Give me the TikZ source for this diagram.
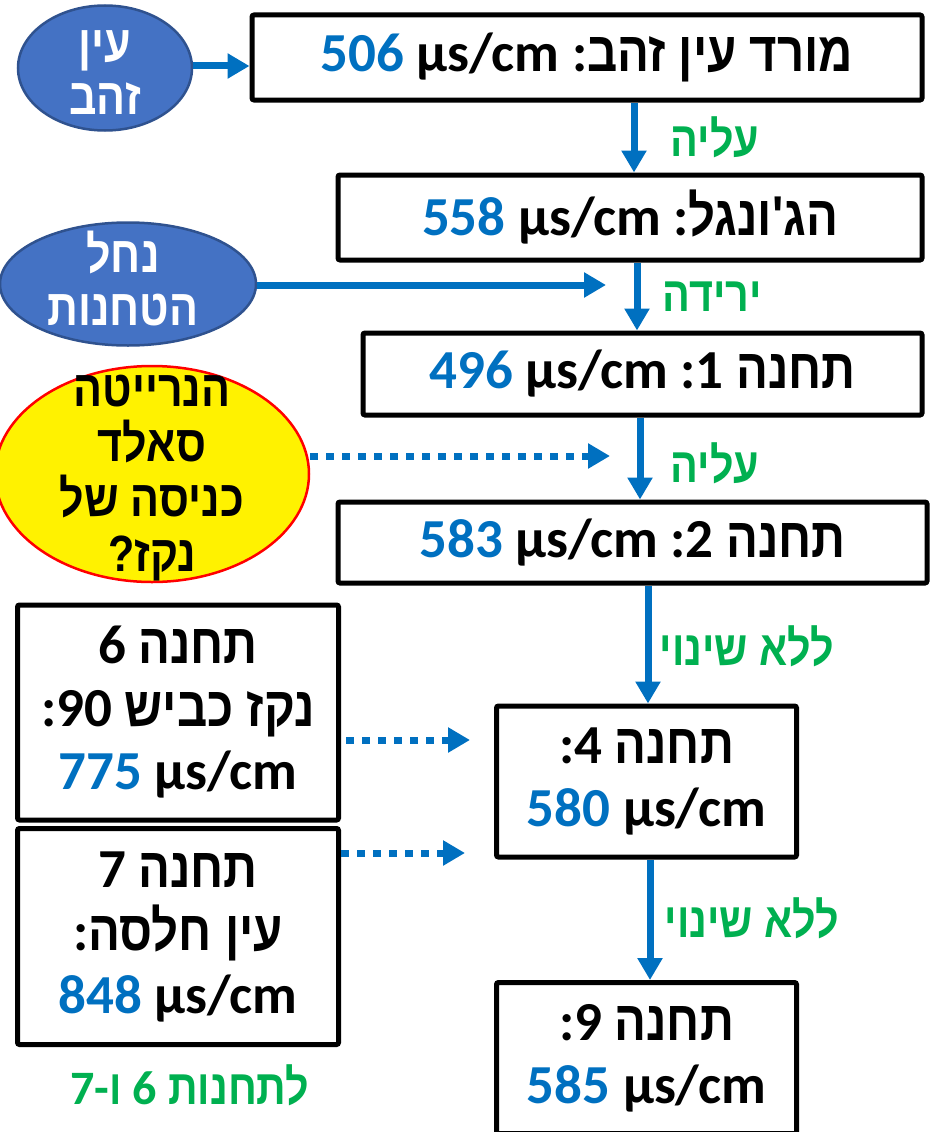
\documentclass[tikz,border=0pt]{standalone}
\usepackage{fontspec}
\usepackage{graphicx}
\setmainfont{Carlito}
\newfontfamily\hebfont[Script=Hebrew]{Liberation Sans}
\usetikzlibrary{arrows.meta,shapes.geometric}
\TeXXeTstate=1
\definecolor{flowblue}{HTML}{0070C0}
\definecolor{notegreen}{HTML}{00B050}
\definecolor{springfill}{HTML}{4472C4}
\definecolor{springline}{HTML}{2F528F}
% Hebrew run: set right to left, a little condensed; the lines below
% are written in their displayed order around these runs
\newcommand\hb[1]{\scalebox{0.86}[1.02]{\hebfont\bfseries\beginR #1\endR}}
\newcommand\val[1]{{\color{flowblue}#1}}
\tikzset{
  stationbox/.style={draw=black, line width=5pt, rounded corners=2pt, inner sep=0pt,
    font=\bfseries\fontsize{55}{63}\selectfont, align=center},
  flow/.style={draw=flowblue, line width=7pt, -{Triangle[length=22pt,width=24pt]}},
  seep/.style={flow, dash pattern=on 8pt off 8pt},
  trend/.style={text=notegreen, inner sep=0pt, font=\bfseries\fontsize{48}{50}\selectfont},
  spring/.style={ellipse, draw=springline, line width=2.5pt, fill=springfill, inner sep=0pt},
  springtext/.style={text=white, inner sep=0pt, align=center, font=\bfseries\fontsize{50}{53}\selectfont},
  suspect/.style={ellipse, draw=red, line width=2.5pt, fill=yellow, inner sep=0pt},
  suspecttext/.style={text=black, inner sep=0pt, align=center, font=\bfseries\fontsize{50}{55}\selectfont},
}
\begin{document}
\begin{tikzpicture}[x=1pt,y=-1pt]
\useasboundingbox (0,0) rectangle (930,1132);

% main line of stations
\node[stationbox, minimum width=670pt, minimum height=85pt] (b1) at (587,57.5)
  {\val{506} µs/cm :\hb{מורד עין זהב}};
\node[stationbox, minimum width=584pt, minimum height=85pt] (b2) at (630,217.5)
  {\val{558} µs/cm :\hb{הג'ונגל}};
\node[stationbox, minimum width=559pt, minimum height=82pt] (b3) at (642.5,374)
  {\val{496} µs/cm :1 \hb{תחנה}};
\node[stationbox, minimum width=589pt, minimum height=81pt] (b4) at (632.5,542.5)
  {\val{583} µs/cm :2 \hb{תחנה}};
\node[stationbox, minimum width=300pt, minimum height=151pt] (b8) at (646.5,781.5)
  {:4 \hb{תחנה}\\ \val{580} µs/cm};
\node[stationbox, minimum width=300pt, minimum height=151pt] (b9) at (646.5,1058)
  {:9 \hb{תחנה}\\ \val{585} µs/cm};

% side stations
\node[stationbox, minimum width=321pt, minimum height=215pt] (b6) at (178,712.5)
  {6 \hb{תחנה}\\ :90 \hb{נקז כביש}\\ \val{775} µs/cm};
\node[stationbox, minimum width=321pt, minimum height=216pt] (b7) at (178,936.5)
  {7 \hb{תחנה}\\ :\hb{עין חלסה}\\ \val{848} µs/cm};

% sources
\node[spring, minimum width=174pt, minimum height=125pt] (e1) at (105,68) {};
\node[springtext] (e1t) at (105,73) {\hb{עין}\\ \hb{זהב}};
\node[spring, minimum width=256pt, minimum height=123pt] (e2) at (128,284) {};
\node[springtext] (e2t) at (123,279) {\hb{נחל}\\ \hb{הטחנות}};
\node[suspect, minimum width=314pt, minimum height=216pt] (e3) at (152,474) {};
\node[suspecttext] (e3t) at (152,478)
  {\hb{הנרייטה}\\ \hb{סאלד}\\ \hb{כניסה של}\\ \hb{נקז?}};

% free ends of the inflow arrows
\coordinate (in2) at (606,285);
\coordinate (in3) at (610,456);
\coordinate (in6) at (470,740);
\coordinate (in7) at (465,853);

% columns of the downstream arrows
\coordinate (c1) at (634,0);
\coordinate (c2) at (637,0);
\coordinate (c3) at (640,0);
\coordinate (c4) at (648,0);
\coordinate (c5) at (650,0);

\draw[flow] (e1.east |- 0,66) -- (b1.west |- 0,66);
\draw[flow] (b1.south -| c1) -- (b2.north -| c1);
\draw[flow] (e2.east |- in2) -- (in2);
\draw[flow] (b2.south -| c2) -- (b3.north -| c2);
\draw[seep] (e3.east |- in3) -- (in3);
\draw[flow] (b3.south -| c3) -- (b4.north -| c3);
\draw[flow] (b4.south -| c4) -- (b8.north -| c4);
\draw[seep, shorten <=5pt] (b6.east |- in6) -- (in6);
\draw[seep] (b7.east |- in7) -- (in7);
\draw[flow] (b8.south -| c5) -- (b9.north -| c5);

% trend labels
\node[trend] (t1) at (715,137) {\hb{עליה}};
\node[trend] (t2) at (712,297) {\hb{ירידה}};
\node[trend] (t3) at (715,463) {\hb{עליה}};
\node[trend] (t4) at (747,646) {\hb{ללא שינוי}};
\node[trend] (t5) at (752,918) {\hb{ללא שינוי}};
\node[trend] (t6) at (190,1085) {7-\hb{ו} 6 \hb{לתחנות}};
\end{tikzpicture}
\end{document}
